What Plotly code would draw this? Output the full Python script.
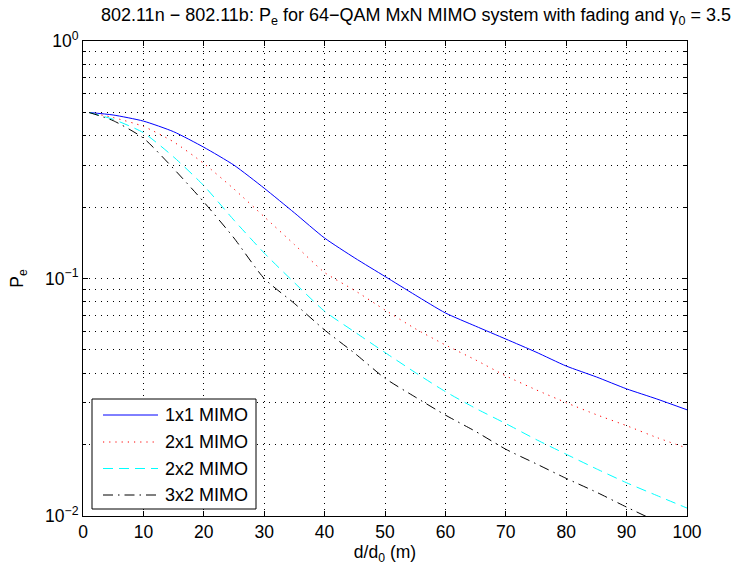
import plotly.graph_objects as go

# distance ratio d/d0 (m)
distance = [1, 5, 10, 15, 20, 25, 30, 35, 40, 45, 50, 55, 60, 65, 70, 75, 80, 85, 90, 95, 100]

# symbol error probability for each antenna configuration
pe_1x1 = [0.5, 0.488, 0.46, 0.415, 0.357, 0.30, 0.24, 0.189, 0.148, 0.122, 0.102, 0.0852,
          0.0716, 0.063, 0.0556, 0.0490, 0.0428, 0.0385, 0.0343, 0.0311, 0.0280]
pe_2x1 = [0.5, 0.476, 0.437, 0.376, 0.305, 0.238, 0.182, 0.139, 0.106, 0.0890, 0.0737, 0.0615,
          0.0525, 0.0454, 0.0389, 0.0340, 0.0300, 0.0267, 0.0240, 0.0214, 0.0193]
pe_2x2 = [0.5, 0.468, 0.411, 0.325, 0.246, 0.176, 0.128, 0.096, 0.0728, 0.0595, 0.0488, 0.0402,
          0.0334, 0.0284, 0.0245, 0.0210, 0.0182, 0.0158, 0.0138, 0.0122, 0.0108]
pe_3x2 = [0.5, 0.462, 0.39, 0.29, 0.21, 0.148, 0.10, 0.0785, 0.0607, 0.0484, 0.0380, 0.0317,
          0.0266, 0.0227, 0.0191, 0.0166, 0.0144, 0.0126, 0.0109, 0.0095, 0.0085]

series_names = ["1x1 MIMO", "2x1 MIMO", "2x2 MIMO", "3x2 MIMO"]
series_values = [pe_1x1, pe_2x1, pe_2x2, pe_3x2]
series_colors = ["#0000FF", "#FF0000", "#00FFFF", "#000000"]
series_dashes = ["solid", "1.2px,5px", "10px,6px", "10px,5px,1.5px,5px"]

x_ticks = list(range(0, 101, 10))
y_ticks = [0.01, 0.1, 1]
y_tick_text = ["10<sup>−2</sup>", "10<sup>−1</sup>", "10<sup>0</sup>"]
y_minor = [m * 10.0 ** e for e in (-2, -1) for m in range(2, 10)]

FONT = "Liberation Sans, Arial, Helvetica, sans-serif"
W, H = 735, 572
L, R, T, B = 83, 48, 41, 56
plot_w, plot_h = W - L - R, H - T - B
TICK_SIZE = 17.5
TEXT_SIZE = 18

fig = go.Figure()
for name, vals, col, dash in zip(series_names, series_values, series_colors, series_dashes):
    fig.add_trace(go.Scatter(x=distance, y=vals, mode="lines", name=name, showlegend=False,
                             line=dict(color=col, width=1, dash=dash, shape="spline", smoothing=0.6)))

grid_dash = "1px,5px"
fig.update_layout(
    width=W, height=H,
    margin=dict(l=L, r=R, t=T, b=B),
    paper_bgcolor="white", plot_bgcolor="white",
    font=dict(family=FONT, size=TICK_SIZE, color="black"),
    title=dict(text="802.11n − 802.11b: P<sub>e</sub> for 64−QAM MxN MIMO system with fading and γ<sub>0</sub> = 3.5",
               x=416 / W, xanchor="center", y=1 - 15 / H, yanchor="middle",
               font=dict(size=TEXT_SIZE)),
    xaxis=dict(range=[0, 100], tickvals=x_ticks, ticks="inside", ticklen=5, tickcolor="black",
               showline=True, linecolor="black", linewidth=1, mirror="ticks",
               showgrid=True, gridcolor="black", gridwidth=1, griddash=grid_dash,
               zeroline=False, tickfont=dict(size=TICK_SIZE),
               title=dict(text="d/d<sub>0</sub> (m)", standoff=2, font=dict(size=TICK_SIZE))),
    yaxis=dict(type="log", range=[-2, 0], tickvals=y_ticks, ticktext=y_tick_text,
               ticks="inside", ticklen=5, tickcolor="black",
               showline=True, linecolor="black", linewidth=1, mirror="ticks",
               showgrid=True, gridcolor="black", gridwidth=1, griddash=grid_dash,
               zeroline=False, tickfont=dict(size=TICK_SIZE),
               minor=dict(tickvals=y_minor, ticks="inside", ticklen=3, tickcolor="black",
                          showgrid=True, gridcolor="black", gridwidth=1, griddash=grid_dash),
               title=dict(text="P<sub>e</sub>", standoff=16, font=dict(size=TICK_SIZE))),
)

# legend box drawn in pixel positions inside the axes
def px(xp):
    return (xp - L) / plot_w

def py(yp):
    return (H - B - yp) / plot_h

fig.add_shape(type="rect", xref="paper", yref="paper",
              x0=px(92), x1=px(256), y0=py(509), y1=py(399),
              line=dict(color="black", width=1), fillcolor="white", layer="above")
row_y = [415, 442, 468.5, 495]
for name, col, dash, yy in zip(series_names, series_colors, series_dashes, row_y):
    fig.add_shape(type="line", xref="paper", yref="paper",
                  x0=px(103), x1=px(158), y0=py(yy), y1=py(yy),
                  line=dict(color=col, width=1, dash=dash), layer="above")
    fig.add_annotation(xref="paper", yref="paper", x=px(250), y=py(yy),
                       text=name, showarrow=False, xanchor="right", yanchor="middle",
                       font=dict(size=TEXT_SIZE, color="black"))

fig.write_html("out.html")
